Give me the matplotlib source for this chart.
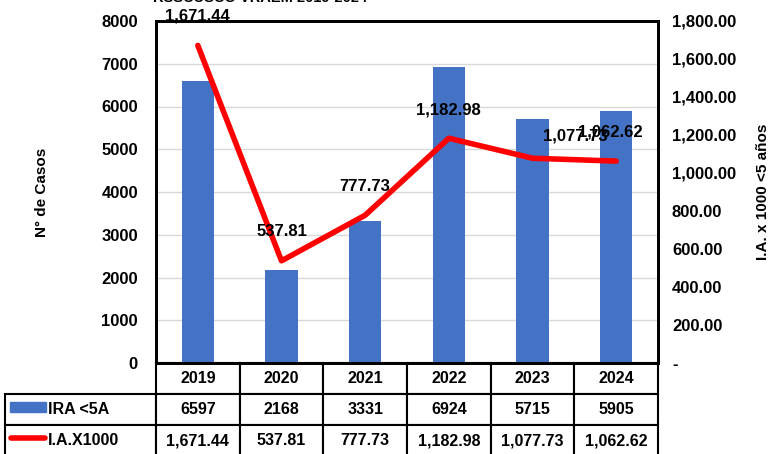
import matplotlib
matplotlib.use('Agg')
import matplotlib.pyplot as plt
from matplotlib.patches import Rectangle
from matplotlib.lines import Line2D

years = ['2019', '2020', '2021', '2022', '2023', '2024']
ira_cases = [6597, 2168, 3331, 6924, 5715, 5905]
ia_rate = [1671.44, 537.81, 777.73, 1182.98, 1077.73, 1062.62]
series_names = ['IRA <5A', 'I.A.X1000']
title = 'RSSCUSCO VRAEM 2019-2024'

plt.rcParams['font.family'] = ['Liberation Sans', 'DejaVu Sans']
plt.rcParams['font.weight'] = 'bold'

blue = '#4472C4'
red = '#FF0000'

fig = plt.figure(figsize=(7.72, 4.54), dpi=100)
ax = fig.add_axes([156 / 772, 1 - 363 / 454, 502 / 772, 342 / 454])
x = list(range(len(years)))

ax.bar(x, ira_cases, width=0.39, color=blue, zorder=2)
ax.set_xlim(-0.5, len(years) - 0.5)
ax.set_ylim(0, 8000)
ax.set_yticks(range(0, 8001, 1000))
ax.set_xticks([])
ax.grid(axis='y', color='#d9d9d9', lw=1, zorder=0)
ax.tick_params(axis='y', length=0, pad=13, labelsize=12)
for lab in ax.get_yticklabels():
    lab.set_fontweight('bold')
ax.set_ylabel('N° de Casos', fontsize=11, fontweight='bold', labelpad=38)
for s in ax.spines.values():
    s.set_linewidth(2)
    s.set_color('black')

ax2 = ax.twinx()
ax2.plot(x, ia_rate, color=red, lw=4, solid_capstyle='round', zorder=3)
ax2.set_ylim(0, 1800)
ax2.set_yticks(range(0, 1801, 200))
ax2.set_yticklabels(['-' if v == 0 else f'{v:,.2f}' for v in range(0, 1801, 200)])
ax2.tick_params(axis='y', length=0, pad=10, labelsize=12)
for lab in ax2.get_yticklabels():
    lab.set_fontweight('bold')
    lab.set_horizontalalignment('left')
ax2.set_ylabel('I.A. x 1000 <5 años', fontsize=11, fontweight='bold', labelpad=14)
for s in ax2.spines.values():
    s.set_linewidth(2)
    s.set_color('black')

# data labels above the line
offsets = [(0, 21), (0, 21), (0, 21), (0, 20), (31, 16), (-4, 21)]
for xi, v, off in zip(x, ia_rate, offsets):
    ax2.annotate(f'{v:,.2f}', (xi, v), xytext=off, textcoords='offset points',
                 ha='center', va='center', fontsize=12, fontweight='bold',
                 annotation_clip=False)

# title is cut at the top edge in the original
fig.text(260 / 772, 1 + 2 / 454, title, ha='center', va='center', fontsize=10.5, fontweight='bold')

# data table under the chart
label_w = 151 / 502
cell_text = [[series_names[0]] + [str(v) for v in ira_cases],
             [series_names[1]] + [f'{v:,.2f}' for v in ia_rate]]
tbl = ax.table(cellText=cell_text, colLabels=[''] + years, cellLoc='center',
               colWidths=[label_w] + [1 / len(years)] * len(years),
               bbox=[-label_w, -93 / 342, 1 + label_w, 93 / 342])
tbl.auto_set_font_size(False)
tbl.set_fontsize(11.5)
for (r, c), cell in tbl.get_celld().items():
    cell.set_linewidth(1.5)
    cell.set_edgecolor('black')
    cell.get_text().set_fontweight('bold')
    if c == 0:
        cell.PAD = 0.285
        cell.get_text().set_horizontalalignment('left')
        cell._loc = 'left'
        if r == 0:
            cell.visible_edges = 'open'

ax.add_patch(Rectangle((-0.291, -0.143), 0.072, 0.029, color=blue,
                       transform=ax.transAxes, clip_on=False))
ax.add_line(Line2D([-0.288, -0.222], [-0.219, -0.219], color=red, lw=4,
                   solid_capstyle='round', transform=ax.transAxes, clip_on=False))

fig.savefig('out.png', dpi=100)
